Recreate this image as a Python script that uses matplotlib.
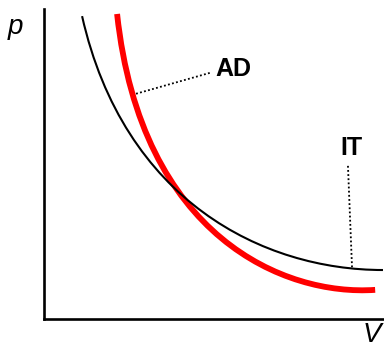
import matplotlib.pyplot as plt
from matplotlib.path import Path
from matplotlib.patches import PathPatch

plt.rcParams["font.family"] = ["Liberation Sans", "DejaVu Sans"]

# isotherm (IT): cubic Bezier nodes in (V, p)
it_v = [1.12, 2.35, 6.44, 9.97]
it_p = [9.77, 3.81, 1.58, 1.58]

# adiabat (AD): cubic Bezier nodes in (V, p)
ad_v = [2.15, 2.86, 7.09, 9.74]
ad_p = [9.84, 2.62, 0.74, 0.94]

# label leaders: (start, end) in data units
ad_leader = [(2.59, 7.23), (4.88, 7.94)]
it_leader = [(8.94, 4.94), (9.06, 1.65)]


def bezier(xs, ys):
    codes = [Path.MOVETO, Path.CURVE4, Path.CURVE4, Path.CURVE4]
    return Path(list(zip(xs, ys)), codes)


fig = plt.figure(figsize=(3.84, 3.49), dpi=100)
ax = fig.add_axes([44 / 384, 30 / 349, 340 / 384, 310 / 349])
ax.set_xlim(0, 10)
ax.set_ylim(0, 10)

for side in ("top", "right"):
    ax.spines[side].set_visible(False)
for side in ("left", "bottom"):
    ax.spines[side].set_linewidth(1.9)
    ax.spines[side].set_color("black")
ax.set_xticks([])
ax.set_yticks([])

ax.add_patch(PathPatch(bezier(it_v, it_p), facecolor="none",
                       edgecolor="black", linewidth=1.5, clip_on=False, zorder=3))
ax.add_patch(PathPatch(bezier(ad_v, ad_p), facecolor="none",
                       edgecolor="#ff0000", linewidth=4.2, clip_on=False,
                       capstyle="butt", zorder=2))

for leader in (ad_leader, it_leader):
    (x0, y0), (x1, y1) = leader
    ax.plot([x0, x1], [y0, y1], color="black", linewidth=1.3,
            linestyle=(0, (1, 1.3)), zorder=1)

ax.text(5.03, 8.06, "AD", fontsize=18, fontweight="bold", ha="left", va="center")
ax.text(9.03, 5.52, "IT", fontsize=18, fontweight="bold", ha="center", va="center")

fig.text(15 / 384, 1 - 27 / 349, "p", fontsize=20, style="italic",
         ha="center", va="center")
fig.text(372 / 384, 1 - 335 / 349, "V", fontsize=20, style="italic",
         ha="center", va="center")

fig.savefig("out.png", dpi=100)
